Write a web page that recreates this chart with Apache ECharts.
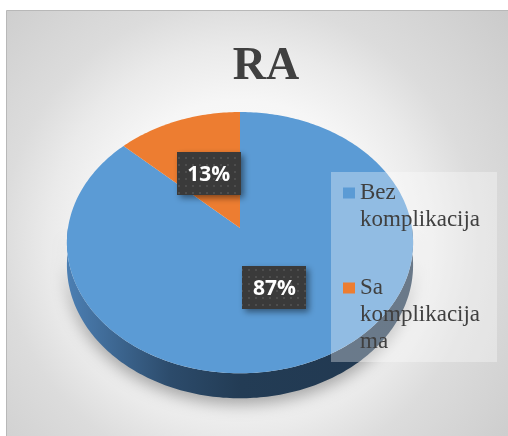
<!DOCTYPE html>
<html>
<head>
<meta charset="utf-8">
<script src="https://cdn.jsdelivr.net/npm/echarts@6/dist/echarts.min.js"></script>
<style>
  html, body { margin: 0; padding: 0; background: #ffffff; }
  #chart { width: 508px; height: 436px; }
</style>
</head>
<body>
<div id="chart"></div>
<script>
// Chart data
const chartTitle = 'RA';
const categories = ['Bez komplikacija', 'Sa komplikacijama'];
const values = [87, 13];
const legendLines = [['Bez', 'komplikacija'], ['Sa', 'komplikacija', 'ma']];
const colors = ['#5b9bd5', '#ed7d31'];

const serif = 'Liberation Serif';

const total = values.reduce((a, b) => a + b, 0);
const starts = [];
values.reduce((acc, v) => { starts.push(acc); return acc + v; }, 0);

// Perspective projection of a tilted disc (3D pie look)
const disc = { cx: 240, cy: 228, kx: 172, ky: 129, persp: 0.112, depth: 22.2 };
function proj(theta, r, h) {
  const u = r * Math.sin(theta), v = r * Math.cos(theta);
  const s = 1 / (1 + disc.persp * v);
  return [disc.cx + disc.kx * u * s, disc.cy - disc.ky * v * s + disc.depth * h * s];
}

// Dotted dark fill for the value boxes
const dotCanvas = document.createElement('canvas');
dotCanvas.width = 7; dotCanvas.height = 7;
(function () {
  const g = dotCanvas.getContext('2d');
  g.fillStyle = '#3a3a3a'; g.fillRect(0, 0, 7, 7);
  g.fillStyle = '#4d4d4d'; g.fillRect(3, 3, 2, 2);
})();

const wallFill = {
  type: 'linear', global: true, x: 67, y: 0, x2: 413, y2: 0,
  colorStops: [
    { offset: 0, color: '#4c7fb3' },
    { offset: 0.3, color: '#2c4b6b' },
    { offset: 0.5, color: '#233c55' },
    { offset: 1, color: '#213850' }
  ]
};

function renderSlice(params, api) {
  const val = api.value(0), st = api.value(1);
  const a0 = st / total * Math.PI * 2;
  const a1 = (st + val) / total * Math.PI * 2;
  const color = api.visual('color');
  const children = [];
  const step = Math.PI / 180;

  // front wall
  const w0 = Math.max(a0, Math.PI / 2), w1 = Math.min(a1, Math.PI * 1.5);
  if (w1 > w0) {
    const n = Math.max(2, Math.ceil((w1 - w0) / step));
    const pts = [];
    for (let i = 0; i <= n; i++) pts.push(proj(w0 + (w1 - w0) * i / n, 1, 0));
    for (let i = n; i >= 0; i--) pts.push(proj(w0 + (w1 - w0) * i / n, 1, 1));
    children.push({
      type: 'polygon', z2: 1, shape: { points: pts },
      style: { fill: wallFill, shadowBlur: 16, shadowColor: 'rgba(0,0,0,0.33)', shadowOffsetY: 6 }
    });
  }

  // top face
  const n = Math.max(2, Math.ceil((a1 - a0) / step));
  const top = [proj(0, 0, 0)];
  for (let i = 0; i <= n; i++) top.push(proj(a0 + (a1 - a0) * i / n, 1, 0));
  children.push({ type: 'polygon', z2: 10, shape: { points: top }, style: { fill: color } });

  // value box
  const c = proj((a0 + a1) / 2, 0.48, 0);
  children.push({
    type: 'rect', z2: 20,
    shape: { x: Math.round(c[0] - 32), y: Math.round(c[1] - 21.5), width: 64, height: 43 },
    style: {
      fill: { image: dotCanvas, repeat: 'repeat' },
      shadowBlur: 6, shadowOffsetX: 3, shadowOffsetY: 3, shadowColor: 'rgba(0,0,0,0.45)'
    }
  });
  children.push({
    type: 'text', z2: 21, x: c[0], y: c[1] + 1,
    style: {
      text: Math.round(val / total * 100) + '%',
      fill: '#ffffff', fontFamily: 'Open Sans', fontWeight: 'bold', fontSize: 21,
      align: 'center', verticalAlign: 'middle'
    }
  });
  return { type: 'group', children };
}

// Legend entries: square key aligned with the first line of a wrapped name
const legendLineHeight = 27;
const legendItems = [];
let keyY = 193;
categories.forEach((name, i) => {
  legendItems.push({
    type: 'rect', z: 4,
    shape: { x: 343, y: keyY - 5.5, width: 12, height: 11 },
    style: { fill: colors[i] }
  });
  legendItems.push({
    type: 'text', z: 4, x: 360, y: keyY - legendLineHeight / 2,
    style: {
      text: legendLines[i].join('\n'),
      fontFamily: serif, fontSize: 23, lineHeight: legendLineHeight,
      fill: '#404040', align: 'left', verticalAlign: 'top'
    }
  });
  keyY += legendLines[i].length * legendLineHeight + 41;
});

const chart = echarts.init(document.getElementById('chart'));
chart.setOption({
  animation: false,
  title: {
    text: chartTitle, left: 261, top: 39, textAlign: 'center',
    textStyle: { fontFamily: serif, fontWeight: 'bold', fontSize: 46, color: '#404040' }
  },
  graphic: [
    {
      type: 'rect', z: -1,
      shape: { x: 6.5, y: 10.5, width: 520, height: 440 },
      style: {
        fill: {
          type: 'radial', global: true, x: 240, y: 240, r: 350,
          colorStops: [
            { offset: 0, color: '#ffffff' },
            { offset: 0.4, color: '#f6f6f6' },
            { offset: 0.55, color: '#eaeaea' },
            { offset: 0.68, color: '#dcdcdc' },
            { offset: 1, color: '#cbcbcb' }
          ]
        },
        stroke: '#b8b8b8', lineWidth: 1
      }
    },
    {
      type: 'rect', z: 3,
      shape: { x: 331, y: 172, width: 166, height: 190 },
      style: { fill: 'rgba(255,255,255,0.33)' }
    }
  ].concat(legendItems),
  series: categories.map((name, i) => ({
    type: 'custom', name, coordinateSystem: 'none',
    itemStyle: { color: colors[i] },
    renderItem: renderSlice,
    data: [[values[i], starts[i]]]
  }))
});
</script>
</body>
</html>
